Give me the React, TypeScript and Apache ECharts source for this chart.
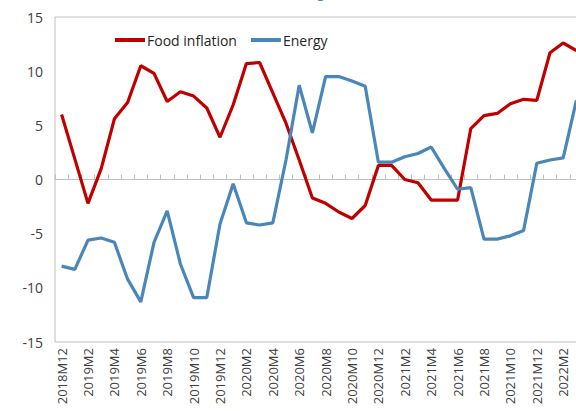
import React, { useEffect, useRef } from "react";
import * as echarts from "echarts";

const months: string[] = [
  "2018M12",
  "2019M1", "2019M2", "2019M3", "2019M4", "2019M5", "2019M6", "2019M7", "2019M8", "2019M9", "2019M10", "2019M11", "2019M12",
  "2020M1", "2020M2", "2020M3", "2020M4", "2020M5", "2020M6", "2020M7", "2020M8", "2020M9", "2020M10", "2020M11", "2020M12",
  "2021M1", "2021M2", "2021M3", "2021M4", "2021M5", "2021M6", "2021M7", "2021M8", "2021M9", "2021M10", "2021M11", "2021M12",
  "2022M1", "2022M2", "2022M3",
];

const foodInflation: number[] = [
  6.0,
  1.9, -2.2, 1.0, 5.6, 7.1, 10.5, 9.8, 7.2, 8.1, 7.7, 6.6, 3.9,
  6.9, 10.7, 10.8, 8.0, 5.2, 1.8, -1.7, -2.2, -3.0, -3.6, -2.4, 1.3,
  1.3, 0.0, -0.3, -1.9, -1.9, -1.9, 4.7, 5.9, 6.1, 7.0, 7.4, 7.3,
  11.7, 12.6, 11.9,
];

const energy: number[] = [
  -8.0,
  -8.3, -5.6, -5.4, -5.8, -9.2, -11.3, -5.8, -2.9, -7.8, -10.9, -10.9, -4.1,
  -0.4, -4.0, -4.2, -4.0, 1.8, 8.7, 4.3, 9.5, 9.5, 9.1, 8.6, 1.6,
  1.6, 2.1, 2.4, 3.0, 1.0, -0.9, -0.75, -5.5, -5.5, -5.2, -4.7, 1.5,
  1.8, 2.0, 7.3,
];

const seriesNames: string[] = ["Food inflation", "Energy"];
const yTicks = { min: -15, max: 15, interval: 5 };

const FONT = "'Open Sans', 'Noto Sans', sans-serif";

export default function App() {
  const ref = useRef<HTMLDivElement>(null);

  useEffect(() => {
    if (!ref.current) return;
    const chart = echarts.init(ref.current, undefined, { renderer: "svg" });
    chart.setOption({
      animation: false,
      textStyle: { fontFamily: FONT },
      grid: {
        show: true,
        left: 55,
        top: 17,
        width: 528,
        height: 325,
        borderColor: "#bfbfbf",
        borderWidth: 1,
        backgroundColor: "transparent",
        containLabel: false,
      },
      graphic: [
        {
          type: "text",
          left: 266,
          top: -16,
          style: {
            text: "(% change)",
            fill: "#4a86b8",
            font: `14px ${FONT}`,
          },
        },
      ],
      legend: {
        data: seriesNames,
        left: 110,
        top: 28,
        itemWidth: 30,
        itemHeight: 4,
        itemGap: 14,
        icon: "rect",
        textStyle: { fontSize: 14, color: "#262626", fontFamily: FONT, padding: [0, 0, 0, -3] },
      },
      xAxis: [
        {
          type: "category",
          data: months,
          position: "bottom",
          boundaryGap: true,
          axisLine: { show: false, onZero: false },
          axisTick: { show: false },
          splitLine: { show: false },
          axisLabel: {
            interval: 1,
            rotate: 90,
            margin: 6,
            fontSize: 13,
            color: "#404040",
            fontFamily: FONT,
          },
        },
        {
          type: "category",
          data: months,
          position: "bottom",
          boundaryGap: true,
          axisLine: { show: true, onZero: true, lineStyle: { color: "#bfbfbf", width: 1 } },
          axisTick: { show: true, inside: true, length: 5, interval: 0, lineStyle: { color: "#bfbfbf" } },
          axisLabel: { show: false },
          splitLine: { show: false },
        },
      ],
      yAxis: {
        type: "value",
        min: yTicks.min,
        max: yTicks.max,
        interval: yTicks.interval,
        axisLine: { show: false },
        axisTick: { show: false },
        splitLine: { show: false },
        axisLabel: { fontSize: 14, color: "#404040", margin: 12, fontFamily: FONT },
      },
      series: [
        {
          name: seriesNames[0],
          type: "line",
          xAxisIndex: 0,
          data: foodInflation,
          symbol: "none",
          lineStyle: { color: "#c00000", width: 3.2 },
          itemStyle: { color: "#c00000" },
        },
        {
          name: seriesNames[1],
          type: "line",
          xAxisIndex: 0,
          data: energy,
          symbol: "none",
          lineStyle: { color: "#4a86b8", width: 3.2 },
          itemStyle: { color: "#4a86b8" },
        },
      ],
    });
    return () => chart.dispose();
  }, []);

  return (
    <div
      style={{
        position: "fixed",
        left: 0,
        top: 0,
        width: 576,
        height: 411,
        overflow: "hidden",
        background: "#fff",
      }}
    >
      <div ref={ref} style={{ width: 600, height: 411 }} />
    </div>
  );
}
